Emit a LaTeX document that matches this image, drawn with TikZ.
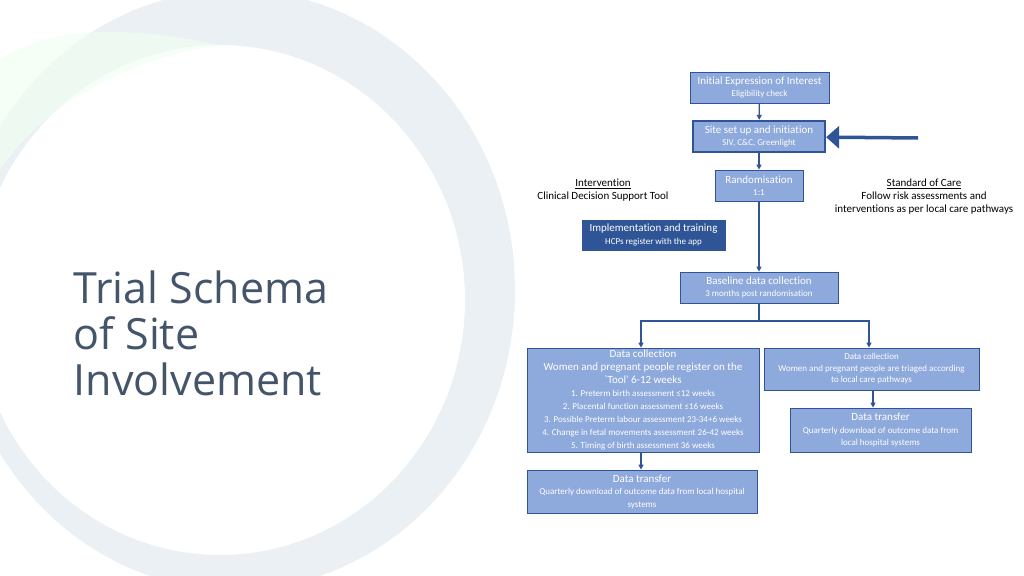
\documentclass[tikz,border=0pt]{standalone}
\usepackage{fontspec}
\setmainfont{Open Sans}
\newfontfamily\boxfont{Carlito}[Ligatures={NoCommon}]
\usetikzlibrary{arrows.meta,positioning}
\definecolor{boxfill}{HTML}{8EA9DB}
\definecolor{boxline}{HTML}{2F5597}
\definecolor{darkbox}{HTML}{2F5597}
\definecolor{titlecol}{HTML}{44546A}
\definecolor{ringcol}{HTML}{EAF0F3}
\begin{document}
\begin{tikzpicture}[x=1pt,y=-1pt,>={Triangle[length=5pt,width=5pt]},
    thick,
    step box/.style={rectangle,draw=boxline,fill=boxfill,text=white,align=center,
      font=\boxfont\fontsize{11}{12.5}\selectfont,inner sep=1pt,line width=0.8pt},
    flow/.style={->,draw=boxline,line width=1.3pt},
    side text/.style={align=center,font=\boxfont\fontsize{11}{13}\selectfont}]
    \useasboundingbox (0,0) rectangle (1024,575);
    % background ring
    \fill[ringcol,even odd rule]
      (235,290) ellipse [x radius=280,y radius=300]
      (220,300) ellipse [x radius=245,y radius=255];
    \fill[green!6!white,opacity=0.6] (0,60) .. controls (60,20) and (150,30) .. (220,45)
      .. controls (120,60) and (40,110) .. (0,170) -- cycle;
    \node[anchor=west,text=titlecol,align=left,font=\fontsize{43}{46}\selectfont] (title) at (70,333)
      {Trial Schema\\of Site\\Involvement};
    % boxes
    \node[step box,minimum width=139,minimum height=31] (init) at (759.5,87.5)
      {Initial Expression of Interest\\{\fontsize{9}{10}\selectfont Eligibility check}};
    \node[step box,minimum width=132,minimum height=31,line width=2.2pt] (site) at (759,136.5)
      {Site set up and initiation\\{\fontsize{9}{10}\selectfont SIV, C\&C, Greenlight}};
    \node[step box,minimum width=88,minimum height=31] (rand) at (759,185.5)
      {Randomisation\\{\fontsize{9}{10}\selectfont 1:1}};
    \node[step box,fill=darkbox,minimum width=143,minimum height=30] (impl) at (653.5,235)
      {Implementation and training\\{\fontsize{9}{10}\selectfont HCPs register with the app}};
    \node[step box,minimum width=158,minimum height=31] (base) at (759,287.5)
      {Baseline data collection\\{\fontsize{9}{10}\selectfont 3 months post randomisation}};
    \node[step box,minimum width=232,minimum height=104,font=\boxfont\fontsize{11}{13}\selectfont] (dc1) at (643,400)
      {Data collection\\Women and pregnant people register on the\\`Tool' 6-12 weeks\\
      {\fontsize{9}{11}\selectfont 1. Preterm birth assessment ≤12 weeks}\\
      {\fontsize{9}{11}\selectfont 2. Placental function assessment ≤16 weeks}\\
      {\fontsize{9}{11}\selectfont 3. Possible Preterm labour assessment 23-34+6 weeks}\\
      {\fontsize{9}{11}\selectfont 4. Change in fetal movements assessment 26-42 weeks}\\
      {\fontsize{9}{11}\selectfont 5. Timing of birth assessment 36 weeks}};
    \node[step box,minimum width=230,minimum height=43] (dt1) at (642,491.5)
      {Data transfer\\{\fontsize{9}{11}\selectfont Quarterly download of outcome data from local hospital}\\
      {\fontsize{9}{10}\selectfont systems}};
    \node[step box,minimum width=215,minimum height=42,font=\boxfont\fontsize{9}{11.5}\selectfont] (dc2) at (871.5,369)
      {Data collection\\Women and pregnant people are triaged according\\to local care pathways};
    \node[step box,minimum width=181,minimum height=44] (dt2) at (880.5,430)
      {Data transfer\\{\fontsize{9}{11}\selectfont Quarterly download of outcome data from}\\
      {\fontsize{9}{10}\selectfont local hospital systems}};
    % side labels
    \node[side text] (interv) at (603,190) {\underline{Intervention}\\Clinical Decision Support Tool};
    \node[side text] (soc) at (924,197) {\underline{Standard of Care}\\Follow risk assessments and\\interventions as per local care pathways};
    % connectors
    \coordinate (feed) at (918,138);
    \coordinate (split) at (759,321);
    \draw[flow] (init) -- (site);
    \draw[flow] (site) -- (rand);
    \draw[flow] (rand) -- (base);
    \draw[draw=boxline,line width=3.5pt,-{Triangle[length=13pt,width=22pt]}] (feed) -- (site);
    \draw[draw=boxline,line width=1.3pt] (base.south) -- (split);
    \draw[flow] (split) -| (dc1.north -| 641,0);
    \draw[flow] (split) -| (dc2.north -| 869,0);
    \draw[flow] (dc1.south -| 641,0) -- (dt1.north -| 641,0);
    \draw[flow] (dc2.south -| 873,0) -- (dt2.north -| 873,0);
\end{tikzpicture}
\end{document}
